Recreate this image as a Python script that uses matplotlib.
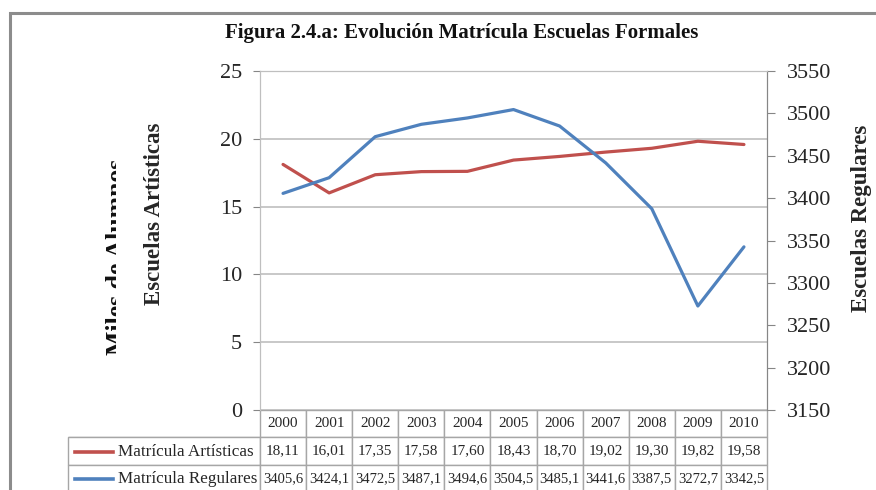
import matplotlib
matplotlib.use('Agg')
import matplotlib.pyplot as plt
from matplotlib.transforms import Bbox, TransformedBbox
from matplotlib.patches import Rectangle

# chart data
years = ['2000', '2001', '2002', '2003', '2004', '2005', '2006', '2007', '2008', '2009', '2010']
artisticas = [18.11, 16.01, 17.35, 17.58, 17.60, 18.43, 18.70, 19.02, 19.30, 19.82, 19.58]
regulares = [3405.6, 3424.1, 3472.5, 3487.1, 3494.6, 3504.5, 3485.1, 3441.6, 3387.5, 3272.7, 3342.5]
labels = ['Matrícula Artísticas', 'Matrícula Regulares']

red = '#C0504D'
blue = '#4F81BD'
grid_col = '#bfbfbf'
text_col = '#262626'

plt.rcParams['font.family'] = ['Liberation Serif', 'DejaVu Serif']

fig = plt.figure(figsize=(8.76, 4.90), dpi=100)
ax = fig.add_axes([260 / 876, 1 - 410 / 490, 507 / 876, 339 / 490])
ax2 = ax.twinx()

x = list(range(len(years)))
ax.plot(x, artisticas, color=red, lw=2.3, solid_capstyle='round', zorder=3)
ax2.plot(x, regulares, color=blue, lw=2.3, solid_capstyle='round', zorder=3)

ax.set_xlim(-0.5, len(years) - 0.5)
ax.set_ylim(0, 25)
ax.set_yticks([0, 5, 10, 15, 20, 25])
ax2.set_ylim(3150, 3550)
ax2.set_yticks(range(3150, 3551, 50))

ax.yaxis.grid(True, color=grid_col, lw=1.2)
ax.set_axisbelow(True)
ax.set_xticks([])

for a in (ax, ax2):
    a.spines['bottom'].set_visible(False)
    a.spines['top'].set_color(grid_col)
    a.spines['left'].set_color(grid_col)
    a.spines['right'].set_color('#868686')

ax.tick_params(axis='y', length=5, color='#868686', pad=8, labelsize=16, labelcolor=text_col)
ax2.tick_params(axis='y', length=6, color='#868686', pad=8, labelsize=16, labelcolor=text_col)

# data table under the plot, Excel style
fmt_art = [f'{v:.2f}'.replace('.', ',') for v in artisticas]
fmt_reg = [f'{v:.1f}'.replace('.', ',') for v in regulares]
cell_text = [[''] + years, [''] + fmt_art, [''] + fmt_reg]
col_w = [192] + [507 / 11] * 11
tb = ax.table(cellText=cell_text, colWidths=col_w, cellLoc='center',
              bbox=[-192 / 507, -82 / 339, 699 / 507, 82 / 339])
tb.auto_set_font_size(False)
tb.set_fontsize(11)
for (r, c), cell in tb.get_celld().items():
    cell.set_edgecolor('#a6a6a6')
    cell.set_linewidth(1.0)
    cell.get_text().set_color(text_col)
    cell.PAD = 0.02
    if r == 2:
        cell.get_text().set_fontsize(10.5)
    if r == 0 and c == 0:
        cell.visible_edges = 'B'

row_y = [-(451.5 - 410) / 339, -(478.5 - 410) / 339]
for yy, lab, col in zip(row_y, labels, [red, blue]):
    ax.plot([-185 / 507, -147 / 507], [yy, yy], color=col, lw=2.6,
            transform=ax.transAxes, clip_on=False)
    ax.text(-142 / 507, yy, lab, transform=ax.transAxes, ha='left', va='center',
            fontsize=12.3, color=text_col)

# titles and axis labels
fig.text(462 / 876, 1 - 33 / 490, 'Figura 2.4.a: Evolución Matrícula Escuelas Formales',
         ha='center', va='center', fontsize=15, fontweight='bold', color='#111111')
fig.text(155 / 876, 1 - 214 / 490, 'Escuelas Artísticas', rotation=90,
         ha='center', va='center', fontsize=16.5, fontweight='bold', color=text_col)
fig.text(862 / 876, 1 - 218 / 490, 'Escuelas Regulares', rotation=90,
         ha='center', va='center', fontsize=16.5, fontweight='bold', color=text_col)

# the original "Miles de Alumnos" label is half hidden behind the other label
t = fig.text(106 / 876, 1 - 257 / 490, 'Miles de Alumnos', rotation=90,
             ha='left', va='center', fontsize=18.5, fontweight='bold', color='#111111')
t.set_clip_box(TransformedBbox(Bbox([[0, 0], [116 / 876, 1]]), fig.transFigure))

# outer frame of the figure
frame = Rectangle((10 / 876, -0.1), 1.2, 1 - 13 / 490 + 0.1, transform=fig.transFigure,
                  fill=False, edgecolor='#8c8c8c', lw=2.2)
fig.patches.append(frame)

fig.savefig('out.png', dpi=100)
